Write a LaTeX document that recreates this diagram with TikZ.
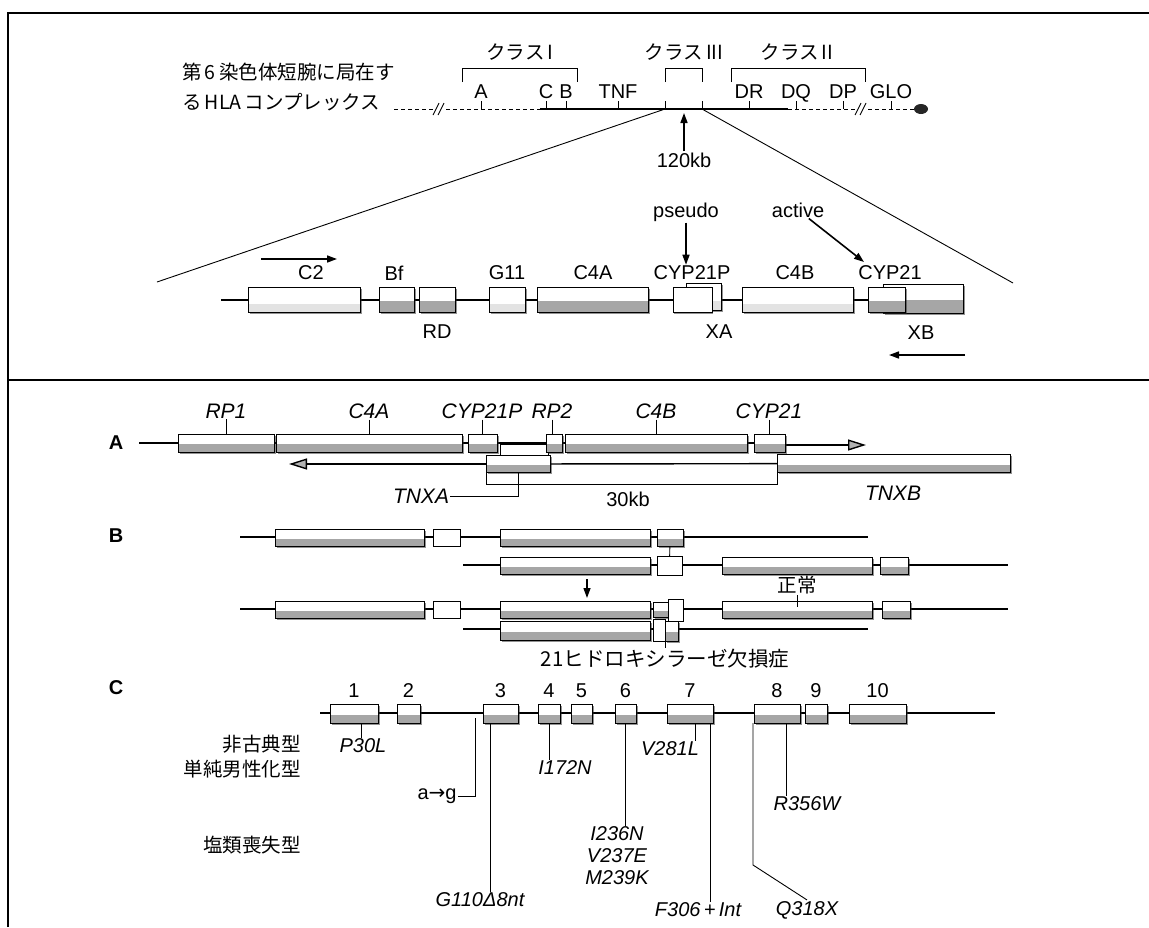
\documentclass[tikz,border=0pt]{standalone}
\usepackage{fontspec}
\setmainfont{Liberation Sans}
\newfontfamily\jpfont{Noto Sans CJK JP}
\newfontfamily\dvfont{DejaVu Sans}
\usetikzlibrary{arrows.meta,shadows,calc}

\begin{document}
\begin{tikzpicture}[x=1pt,y=-1pt,
    lab/.style={font=\fontsize{20}{22}\selectfont,inner sep=1pt},
    ilab/.style={font=\fontsize{21}{23}\selectfont\itshape,inner sep=1pt},
    mlab/.style={font=\fontsize{20}{22}\selectfont\itshape,inner sep=1pt},
    jlab/.style={font=\fontsize{19.5}{22}\selectfont\jpfont,inner sep=1pt},
    sec/.style={font=\fontsize{20}{22}\selectfont\bfseries,inner sep=1pt},
    gene/.style={draw,line width=0.8pt,fill=white,inner sep=0pt,outer sep=0pt,
      path picture={\fill[gray!70]
        ([yshift=-1pt]path picture bounding box.west) rectangle
        (path picture bounding box.south east);},
      drop shadow={shadow xshift=1.6pt,shadow yshift=-1.6pt,fill=black!85}},
    pale/.style={gene,path picture={\fill[gray!22]
        ([yshift=-4pt]path picture bounding box.west) rectangle
        (path picture bounding box.south east);}},
    blank/.style={draw,line width=0.8pt,fill=white,inner sep=0pt,outer sep=0pt,
      drop shadow={shadow xshift=1.4pt,shadow yshift=-1.4pt,fill=black!85}},
    axis/.style={line width=1.4pt},
    thin/.style={line width=0.9pt},
    dsh/.style={line width=1pt,dash pattern=on 4pt off 3pt},
    arr/.style={-{Triangle[length=10pt,width=7pt]},line width=1.6pt},
    bigarr/.style={-{Triangle[length=18pt,width=11pt,fill=gray!60]},line width=1.4pt},
  ]
  \useasboundingbox (0,0) rectangle (1149,927);

  % ── frame ─────────────────────────────────────────
  \draw[line width=1.3pt] (8,927) -- (8,13) -- (1149,13);
  \draw[line width=1.3pt] (8,380) -- (1149,380);

  % ── HLA complex on chromosome 6 ───────────────────
  \node[jlab,anchor=west] (hla1) at (181,72) {第\,6\,染色体短腕に局在す};
  \node[jlab,anchor=west] (hla2) at (181,102) {る\,HLA\,コンプレックス};

  \draw[dsh] (394,109) -- (435,109);
  \draw[thin] (433,115) -- (439,103) (438,115) -- (444,103);
  \draw[dsh] (446,109) -- (540,109);
  \draw[axis] (540,109) -- (788,109);
  \draw[dsh] (788,109) -- (857,109);
  \draw[thin] (855,115) -- (861,103) (860,115) -- (866,103);
  \draw[dsh] (868,109) -- (914,109);
  \fill[black!85] (921,109) ellipse (7pt and 5pt);

  \foreach \x/\t in {481/A,546/C,566/B,618/TNF,749/DR,796/DQ,843/DP,891/GLO}{
    \draw[thin] (\x,101) -- (\x,109);
    \node[lab,anchor=base] (loc\t) at (\x,98) {\t};
  }

  % class brackets
  \draw[thin] (462,82) -- (462,68) -- (577,68) -- (577,82);
  \draw[thin] (665,82) -- (665,68) -- (702,68) -- (702,82);
  \draw[thin] (731,82) -- (731,68) -- (865,68) -- (865,82);
  \node[jlab] (cls1) at (520,52) {クラス\,I};
  \node[jlab] (cls3) at (684,52) {クラス\,III};
  \node[jlab] (cls2) at (797,52) {クラス\,II};

  \coordinate (c3L) at (665,109);
  \coordinate (c3R) at (702,109);
  \draw[thin] (c3L) -- ++(0,-8);
  \draw[thin] (c3R) -- ++(0,-8);

  % 120kb
  \node[lab] (kb) at (684,160) {120kb};
  \coordinate (kbtip) at (684,113);
  \draw[arr] (kb) -- (kbtip);

  % expansion
  \coordinate (expL) at (157,282);
  \coordinate (expR) at (1013,283);
  \draw[thin] (c3L) -- (expL);
  \draw[thin] (c3R) -- (expR);

  % ── class III region (120kb) ──────────────────────
  \draw[axis] (221,300) -- (963,300);
  \node[pale,minimum width=35pt,minimum height=27pt] (hxa) at (703.5,297){};
  \node[gene,minimum width=80pt,minimum height=29pt] (hxb) at (923,298.5){};
  \foreach \n/\a/\b/\s in {c2/248/360/pale,bf/379/414/gene,rd/419/455/gene,
      g11/489/525/pale,c4a/537/648/gene,cyp21p/673/712/blank,
      c4b/742/853/pale,cyp21/868/905/gene}{
    \pgfmathsetmacro{\gw}{\b-\a}
    \node[\s,minimum width=\gw pt,minimum height=25pt] (h\n) at ({(\a+\b)/2},300){};
  }
  \foreach \n/\x/\t in {c2/311/C2,bf/394/Bf,g11/507/G11,c4a/593/C4A,
      cyp21p/692/CYP21P,c4b/795/C4B,cyp21/890/CYP21}{
    \node[lab] (l\n) at (\x,273) {\t};
  }
  \node[lab] (lrd) at (437,332) {RD};
  \node[lab] (lxa) at (719,332) {XA};
  \node[lab] (lxb) at (921,333) {XB};

  \node[lab] (pseudo) at (686,212) {pseudo};
  \draw[arr] (pseudo) -- (pseudo |- lcyp21p.north);
  \node[lab] (active) at (798,210) {active};
  \coordinate (acttip) at (864,262);
  \draw[arr] (active) -- (acttip);

  \coordinate (dirA) at (261,259);
  \coordinate (dirB) at (337,259);
  \draw[arr] (dirA) -- (dirB);
  \coordinate (dirC) at (965,355);
  \coordinate (dirD) at (889,355);
  \draw[arr] (dirC) -- (dirD);

  % ── A ─────────────────────────────────────────────
  \node[sec] (secA) at (116,443) {A};
  \draw[axis] (139,443) -- (785,443);
  \coordinate (afwd) at (866,445);
  \draw[bigarr] (785,445) -- (afwd);
  \node[blank,minimum width=48pt,minimum height=11pt] (tnxatop) at (524,450){};
  \foreach \n/\a/\b in {rp1/178/274,c4a/276/462,cyp21p/468/497,
      rp2/546/562,c4b/565/747,cyp21/754/785}{
    \pgfmathsetmacro{\gw}{\b-\a}
    \node[gene,minimum width=\gw pt,minimum height=18pt] (a\n) at ({(\a+\b)/2},443){};
  }
  \foreach \n/\x/\t in {rp1/226/RP1,c4a/369/C4A,cyp21p/482/CYP21P,
      rp2/552/RP2,c4b/656/C4B,cyp21/769/CYP21}{
    \node[ilab] (il\n) at (\x,411) {\t};
    \draw[thin] (il\n.south) -- (il\n.south |- a\n.north);
  }

  \node[gene,minimum width=64pt,minimum height=17pt] (atnxa) at (518,464){};
  \node[gene,minimum width=233pt,minimum height=18pt] (atnxb) at (893.5,463.5){};
  \draw[axis] (atnxa) -- (atnxb);
  \coordinate (abwd) at (289,464);
  \draw[bigarr] (atnxa.west) -- (abwd);

  \draw[thin] (atnxa.south west) -- ++(0,12) -| (atnxb.south west);
  \node[lab] (kb30) at (628,499) {30kb};
  \node[ilab] (ltnxa) at (421,496) {TNXA};
  \draw[thin] (ltnxa.east) -| (atnxa.south);
  \node[ilab] (ltnxb) at (893,493) {TNXB};

  % ── B ─────────────────────────────────────────────
  \node[sec] (secB) at (116,536) {B};
  \draw[axis] (240,537) -- (868,537);
  \draw[axis] (463,565) -- (1008,565);
  \draw[axis] (240,609) -- (1008,609);
  \draw[axis] (463,629) -- (868,629);
  \foreach \n/\a/\b/\y/\h/\s in {
      b1a/275/424/537.5/17/gene,b1b/433/460/537.5/17/blank,
      b1c/500/650/537.5/17/gene,b1d/657/683/537.5/17/gene,
      b2a/500/650/565.5/17/gene,b2b/657/682/565.5/19/blank,
      b2c/722/872/565.5/17/gene,b2d/880/908/565.5/17/gene,
      b3a/275/424/609.5/17/gene,b3b/433/460/609.5/17/blank,
      b3c/500/650/609.5/17/gene,b3d/653/668/609.5/15/gene,
      b3e/668/683/610/22/blank,b3f/722/872/609.5/17/gene,
      b3g/882/910/609.5/17/gene,
      b4a/500/650/630.5/19/gene,b4b/653/665/630/22/blank,
      b4c/665/678/631/20/gene}{
    \pgfmathsetmacro{\gw}{\b-\a}
    \node[\s,minimum width=\gw pt,minimum height=\h pt] (\n) at ({(\a+\b)/2},\y){};
  }
  \draw[thin] (b1d) -- (b2b);
  \coordinate (bdn1) at (587,579);
  \coordinate (bdn2) at (587,598);
  \draw[arr,line width=1.3pt] (bdn1) -- (bdn2);
  \node[jlab] (normal) at (797,585) {正常};
  \draw[thin] (normal.south) -- ++(0,12);
  \node[jlab,font=\fontsize{20.5}{22}\selectfont\jpfont] (def) at (665,659) {21ヒドロキシラーゼ欠損症};
  \draw[thin] (b4b.south east) -- (b4b.south east |- def.north);

  % ── C ─────────────────────────────────────────────
  \node[sec] (secC) at (116,688) {C};
  \draw[axis] (320,713) -- (995,713);
  \foreach \n/\a/\b in {1/330/378,2/397/420,3/483/518,4/538/560,5/571/592,
      6/615/636,7/667/713,8/754/800,9/805/827,10/849/906}{
    \pgfmathsetmacro{\gw}{\b-\a}
    \node[gene,minimum width=\gw pt,minimum height=19pt] (ex\n) at ({(\a+\b)/2},713.5){};
    \node[lab] (num\n) at ({(\a+\b)/2},691) {\n};
  }
  \node[jlab,anchor=east] (nc1) at (302,744) {非古典型};
  \node[jlab,anchor=east] (nc2) at (302,769) {単純男性化型};
  \node[jlab,anchor=east] (sw) at (302,845) {塩類喪失型};

  \node[mlab] (mP30L) at (363,746) {P30L};
  \draw[thin] ([xshift=7pt]ex1.south) -- ([xshift=7pt]ex1.south |- mP30L.north);
  \node[lab] (mag) at (437,796) {a{\dvfont→}g};
  \coordinate (agtop) at (475,718);
  \draw[thin] (agtop) |- (mag.east);
  \node[mlab] (mG110) at (480,900) {G110Δ8nt};
  \draw[thin] ([xshift=-10pt]ex3.south) -- ([xshift=-10pt]ex3.south |- mG110.north);
  \node[mlab] (mI172N) at (565,768) {I172N};
  \draw[thin] (ex4.south) -- (ex4.south |- mI172N.north);
  \node[mlab,align=center] (mI236N) at (617,856) {I236N\\V237E\\M239K};
  \draw[thin] (ex6.south) -- (ex6.south |- mI236N.north);
  \node[mlab] (mV281L) at (670,749) {V281L};
  \draw[thin] ([xshift=5pt]ex7.south) -- ([xshift=5pt]ex7.south |- mV281L.north);
  \node[mlab] (mF306) at (698,910) {F306\,+\,Int};
  \draw[thin] ([xshift=-3pt]ex7.south east) -- ([xshift=-3pt]ex7.south east |- mF306.north);
  \node[mlab] (mR356W) at (807,804) {R356W};
  \draw[thin] ([xshift=9pt]ex8.south) -- ([xshift=9pt]ex8.south |- mR356W.north);
  \node[mlab] (mQ318X) at (807,910) {Q318X};
  \draw[thin] ([xshift=-1pt]ex8.south west) -- ++(0,142) -- (mQ318X.north);

\end{tikzpicture}
\end{document}
